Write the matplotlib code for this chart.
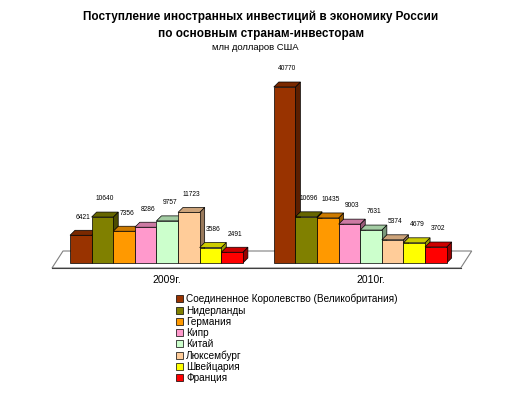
import matplotlib
matplotlib.use('Agg')
import matplotlib.pyplot as plt
from matplotlib.patches import Polygon, Patch
import matplotlib.colors as mc
import numpy as np

plt.rcParams['font.family'] = ['Liberation Sans', 'DejaVu Sans']

title = 'Поступление иностранных инвестиций в экономику России\nпо основным странам-инвесторам'
subtitle = 'млн долларов США'
years = ['2009г.', '2010г.']
countries = ['Соединенное Королевство (Великобритания)', 'Нидерланды', 'Германия', 'Кипр',
             'Китай', 'Люксембург', 'Швейцария', 'Франция']
values_2009 = [6421, 10640, 7356, 8286, 9757, 11723, 3586, 2491]
values_2010 = [40770, 10696, 10435, 9003, 7631, 5374, 4679, 3702]
colors = ['#993300', '#808000', '#FF9900', '#FF99CC', '#CCFFCC', '#FFCC99', '#FFFF00', '#FF0000']

W, H = 516, 394
fig = plt.figure(figsize=(W / 100, H / 100), dpi=100)
# axes occupying px x 30..490, y 70..270
ax = fig.add_axes([30 / W, 1 - 270 / H, 460 / W, 200 / H])
pxx = 21.6            # px per x unit
pxy = 176 / 40770     # px per y unit
ax.set_xlim(-40 / pxx, 8 + 247 / pxx)
ax.set_ylim(-7 / pxy, 193 / pxy)
ax.axis('off')

dx = 5 / pxx
dy = 5 / pxy


def shade(c, f):
    r, g, b = mc.to_rgb(c)
    if f < 1:
        return (r * f, g * f, b * f)
    return (r + (1 - r) * (f - 1), g + (1 - g) * (f - 1), b + (1 - b) * (f - 1))


# floor
fl_front = -5 / pxy
fl_back = 12 / pxy
fx0, fx1 = -18 / pxx, 8 + 1.43 + 8 + 0.65
ax.add_patch(Polygon([(fx0, fl_front), (fx1, fl_front), (fx1 + 11 / pxx, fl_back), (fx0 + 11 / pxx, fl_back)],
                     closed=True, facecolor='white', edgecolor='#808080', lw=0.8, zorder=0))
ax.plot([fx0, fx1], [fl_front, fl_front], color='#404040', lw=0.8, zorder=0.5)

starts = [0, 9.43]
for g, (start, vals) in enumerate(zip(starts, [values_2009, values_2010])):
    for i, v in enumerate(vals):
        x0 = start + i
        x1 = x0 + 1
        z = 10 + g * 100 + i * 3
        c = colors[i]
        ax.add_patch(Polygon([(x1, 0), (x1 + dx, dy), (x1 + dx, v + dy), (x1, v)], closed=True,
                             facecolor=shade(c, 0.6), edgecolor='black', lw=0.5, zorder=z))
        ax.add_patch(Polygon([(x0, v), (x1, v), (x1 + dx, v + dy), (x0 + dx, v + dy)], closed=True,
                             facecolor=shade(c, 0.8), edgecolor='black', lw=0.5, zorder=z + 1))
        ax.bar(x0, v, width=1, align='edge', color=c, edgecolor='black', lw=0.5, zorder=z + 2)
        ax.annotate(str(v), (x0 + 0.62, v + dy), xytext=(0, 7), textcoords='offset points',
                    ha='center', va='bottom', fontsize=4.8, zorder=500)
    ax.text(start + 4.5, -12 / pxy, years[g], ha='center', va='top', fontsize=7.5)

fig.text(261 / W, 1 - 25 / H, title, ha='center', va='center', fontsize=8.5, fontweight='bold',
         linespacing=1.5)
fig.text(255 / W, 1 - 47 / H, subtitle, ha='center', va='center', fontsize=6.8)

handles = [Patch(facecolor=c, edgecolor='black', lw=0.5) for c in colors]
fig.legend(handles, countries, loc='upper left', bbox_to_anchor=(176 / W, 1 - 294 / H),
           frameon=False, fontsize=7.2, handlelength=0.7, handleheight=0.7,
           handletextpad=0.3, labelspacing=0.12, borderpad=0, borderaxespad=0)

fig.savefig('out.png', dpi=100, facecolor='white')
